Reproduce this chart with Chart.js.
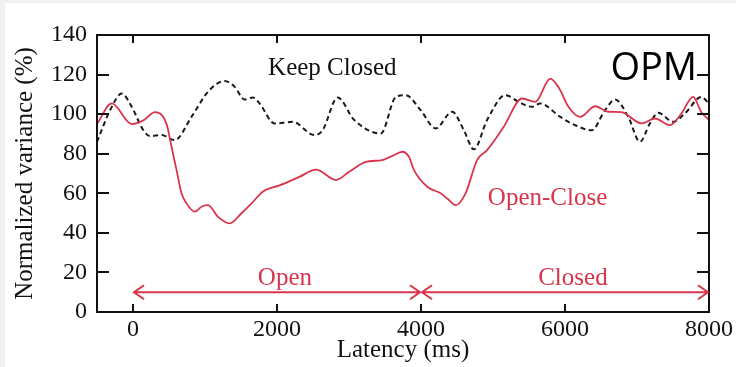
<!DOCTYPE html>
<html>
<head>
<meta charset="utf-8">
<script src="https://cdn.jsdelivr.net/npm/chart.js@4.4.1/dist/chart.umd.min.js"></script>
<style>
  html, body { margin: 0; padding: 0; background: #ffffff; }
  #wrap { width: 736px; height: 367px; }
</style>
</head>
<body>
<div id="wrap"><canvas id="chart" width="736" height="367"></canvas></div>
<script>
// Open-Close condition: latency (ms) and normalized variance (%)
const latencyOpenClose = [-500, -295, -18, 150, 304, 466, 535, 605, 674, 743, 858, 951, 1042, 1181, 1343, 1504, 1650, 1803, 2035, 2311, 2542, 2819, 3003, 3234, 3464, 3603, 3741, 3834, 3903, 4087, 4272, 4364, 4480, 4619, 4779, 4918, 5149, 5403, 5588, 5795, 5920, 6048, 6210, 6418, 6602, 6782, 7063, 7248, 7456, 7617, 7779, 7894, 8000];
const varianceOpenClose = [95, 105.4, 95, 97, 101, 95, 83.5, 71.7, 60, 54.9, 50.7, 53.2, 54, 48.1, 44.8, 49.8, 55, 60.8, 64, 68.3, 72, 66.7, 70.9, 75.9, 76.8, 78.9, 81, 78.4, 71.7, 63.3, 60, 57.4, 54, 60, 76.8, 81.8, 93.6, 107.9, 106.2, 118, 113, 103.7, 98.6, 104, 101.2, 101, 95.3, 97.8, 94.4, 100.3, 108.7, 101, 97];

// Keep Closed condition
const latencyKeepClosed = [-500, -318, -156, -18, 143, 235, 397, 581, 812, 1042, 1273, 1412, 1550, 1665, 1758, 1965, 2219, 2519, 2634, 2842, 3073, 3442, 3650, 3788, 3995, 4203, 4433, 4595, 4734, 4918, 5172, 5356, 5541, 5657, 5934, 6141, 6371, 6556, 6695, 6879, 7041, 7179, 7295, 7502, 7664, 7894, 8000];
const varianceKeepClosed = [86, 102, 110.4, 103.7, 91.9, 88.9, 89.4, 86.9, 98.6, 111.3, 116.8, 113.8, 107.4, 108.4, 105.4, 95.3, 96.1, 89.4, 91.9, 108.4, 97, 90.2, 108.7, 109.6, 102, 92.8, 101.2, 91.9, 82.2, 97, 109.6, 106.2, 103.7, 105.4, 98.6, 94.4, 91.9, 102, 107.4, 98.6, 86, 95.3, 100.7, 96.1, 100.3, 108.7, 105.4];

// Axis ticks
const xTickValues = [0, 2000, 4000, 6000, 8000];
const yTickValues = [0, 20, 40, 60, 80, 100, 120, 140];

// Task phases shown as double-headed arrows
const phaseNames = ['Open', 'Closed'];
const phaseStart = [0, 4000];
const phaseEnd = [4000, 8000];

const RED = '#d8344c';
const SERIF = '"Liberation Serif", "Times New Roman", serif';

const toPoints = (xs, ys) => xs.map((x, i) => ({ x: x, y: ys[i] }));

// Background, frame, inward ticks, arrows and in-plot labels
const decorations = {
  id: 'decorations',
  beforeDraw(chart) {
    const ctx = chart.ctx;
    ctx.save();
    ctx.fillStyle = '#f1f1f1';
    ctx.fillRect(0, 0, chart.width, chart.height);
    ctx.fillStyle = '#ffffff';
    ctx.fillRect(5, 3, chart.width - 5, chart.height - 3);
    ctx.restore();
  },
  afterDatasetsDraw(chart) {
    const { ctx, chartArea: a, scales: { x, y } } = chart;
    ctx.save();

    // frame
    ctx.strokeStyle = '#111';
    ctx.lineWidth = 2;
    ctx.strokeRect(a.left, a.top, a.right - a.left, a.bottom - a.top);

    // inward ticks on all four sides
    ctx.beginPath();
    xTickValues.forEach(v => {
      const px = Math.round(x.getPixelForValue(v));
      ctx.moveTo(px, a.bottom); ctx.lineTo(px, a.bottom - 8);
      ctx.moveTo(px, a.top); ctx.lineTo(px, a.top + 8);
    });
    yTickValues.forEach(v => {
      const py = Math.round(y.getPixelForValue(v));
      ctx.moveTo(a.left, py); ctx.lineTo(a.left + 12, py);
      ctx.moveTo(a.right, py); ctx.lineTo(a.right - 12, py);
    });
    ctx.stroke();

    // phase arrows
    const arrowLevel = 10;
    const ay = y.getPixelForValue(arrowLevel);
    ctx.strokeStyle = RED;
    ctx.fillStyle = RED;
    ctx.lineWidth = 2;
    const head = (tipX, dir) => {
      ctx.moveTo(tipX - dir * 10, ay - 7);
      ctx.lineTo(tipX, ay);
      ctx.lineTo(tipX - dir * 10, ay + 7);
    };
    ctx.font = '25px ' + SERIF;
    ctx.textAlign = 'center';
    ctx.textBaseline = 'middle';
    phaseNames.forEach((name, i) => {
      const x1 = x.getPixelForValue(phaseStart[i]) + 1;
      const x2 = x.getPixelForValue(phaseEnd[i]) - 1;
      ctx.beginPath();
      ctx.moveTo(x1, ay); ctx.lineTo(x2, ay);
      head(x1, -1);
      head(x2, 1);
      ctx.stroke();
      const mid = (phaseStart[i] + phaseEnd[i]) / 2 + 110;
      ctx.fillText(name, x.getPixelForValue(mid), y.getPixelForValue(17));
    });

    // series labels
    ctx.fillStyle = '#111';
    ctx.fillText('Keep Closed', x.getPixelForValue(2768), y.getPixelForValue(123.2));
    ctx.fillStyle = RED;
    ctx.fillText('Open-Close', x.getPixelForValue(5758), y.getPixelForValue(57.6));

    // sensor tag
    ctx.fillStyle = '#000';
    ctx.font = '38px "Open Sans", "Noto Sans", sans-serif';
    ctx.fillText('OPM', x.getPixelForValue(7232), y.getPixelForValue(122.5));

    ctx.restore();
  }
};

new Chart(document.getElementById('chart'), {
  type: 'line',
  data: {
    datasets: [
      {
        label: 'Open-Close',
        data: toPoints(latencyOpenClose, varianceOpenClose),
        borderColor: RED,
        borderWidth: 1.8,
        pointRadius: 0,
        cubicInterpolationMode: 'monotone',
        fill: false
      },
      {
        label: 'Keep Closed',
        data: toPoints(latencyKeepClosed, varianceKeepClosed),
        borderColor: '#1a1a1a',
        borderWidth: 2,
        borderDash: [5, 3.5],
        pointRadius: 0,
        cubicInterpolationMode: 'monotone',
        fill: false
      }
    ]
  },
  options: {
    responsive: false,
    maintainAspectRatio: false,
    animation: false,
    layout: { autoPadding: false, padding: { left: 0, top: 35, right: 24, bottom: 0 } },
    plugins: { legend: { display: false }, tooltip: { enabled: false } },
    scales: {
      x: {
        type: 'linear',
        min: -500,
        max: 8000,
        afterBuildTicks: s => { s.ticks = xTickValues.map(v => ({ value: v })); },
        afterFit: s => { s.height = 55; },
        grid: { display: false, drawTicks: false },
        border: { display: false },
        ticks: {
          color: '#111',
          font: { family: SERIF, size: 24 },
          padding: 3,
          maxRotation: 0,
          autoSkip: false,
          callback: v => String(v)
        },
        title: {
          display: true,
          text: 'Latency (ms)',
          color: '#111',
          font: { family: SERIF, size: 25 },
          padding: { top: 0, bottom: 2 }
        }
      },
      y: {
        type: 'linear',
        min: 0,
        max: 140,
        afterBuildTicks: s => { s.ticks = yTickValues.map(v => ({ value: v })); },
        afterFit: s => { s.width = 97; },
        grid: { display: false, drawTicks: false },
        border: { display: false },
        ticks: {
          color: '#111',
          font: { family: SERIF, size: 24 },
          padding: 10,
          autoSkip: false,
          callback: v => String(v)
        },
        title: {
          display: true,
          text: 'Normalized variance (%)',
          color: '#111',
          font: { family: SERIF, size: 25 },
          padding: { top: 10, bottom: 0 }
        }
      }
    }
  },
  plugins: [decorations]
});
</script>
</body>
</html>
